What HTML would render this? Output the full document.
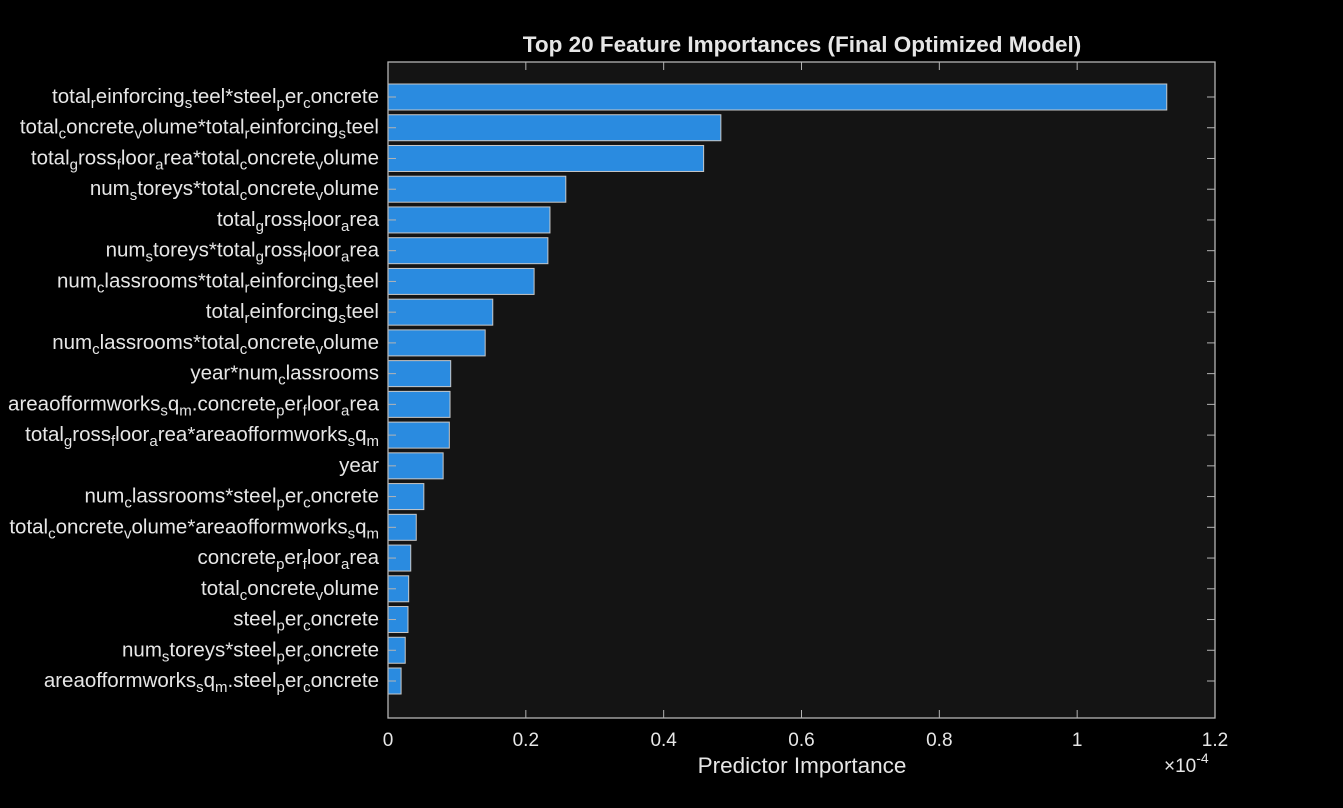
<!DOCTYPE html>
<html><head><meta charset="utf-8"><style>
html,body{margin:0;padding:0;background:#000;}
svg{display:block;font-family:"Liberation Sans",Arial,sans-serif;}
</style></head><body>
<svg id="chart" width="1343" height="808" viewBox="0 0 1343 808">
<rect x="0" y="0" width="1343" height="808" fill="#000"/>
<rect id="plotbg" x="388" y="62" width="827" height="656" fill="#141414"/>
<g id="bars"></g>
<g id="axes"></g>
<text x="802" y="52" text-anchor="middle" fill="#e6e6e6" font-size="22.5" font-weight="bold">Top 20 Feature Importances (Final Optimized Model)</text>
<text x="802" y="773" text-anchor="middle" fill="#e6e6e6" font-size="22.5">Predictor Importance</text>
<text x="1164" y="772" fill="#e6e6e6" font-size="19">×10<tspan dy="-9" font-size="14">-4</tspan></text>
</svg>
<script>
const features = [
"total_reinforcing_steel*steel_per_concrete",
"total_concrete_volume*total_reinforcing_steel",
"total_gross_floor_area*total_concrete_volume",
"num_storeys*total_concrete_volume",
"total_gross_floor_area",
"num_storeys*total_gross_floor_area",
"num_classrooms*total_reinforcing_steel",
"total_reinforcing_steel",
"num_classrooms*total_concrete_volume",
"year*num_classrooms",
"areaofformworks_sq_m.concrete_per_floor_area",
"total_gross_floor_area*areaofformworks_sq_m",
"year",
"num_classrooms*steel_per_concrete",
"total_concrete_volume*areaofformworks_sq_m",
"concrete_per_floor_area",
"total_concrete_volume",
"steel_per_concrete",
"num_storeys*steel_per_concrete",
"areaofformworks_sq_m.steel_per_concrete"
];
const importance = [1.130,0.483,0.458,0.258,0.235,0.232,0.212,0.152,0.141,0.091,0.090,0.089,0.080,0.052,0.041,0.033,0.030,0.029,0.025,0.019];
const xTicks = [0,0.2,0.4,0.6,0.8,1,1.2];
const xTickLabels = ["0","0.2","0.4","0.6","0.8","1","1.2"];

const NS="http://www.w3.org/2000/svg";
const L=388,R=1215,T=62,B=718;
const xMax=1.2;
const xs=v=>L+(v/xMax)*(R-L);
const rowTop=97, rowStep=(681-97)/19;
const ys=i=>rowTop+i*rowStep;
const barH=26;
const bars=document.getElementById('bars');
const axes=document.getElementById('axes');
function mk(tag,attrs,parent){const e=document.createElementNS(NS,tag);for(const k in attrs)e.setAttribute(k,attrs[k]);parent.appendChild(e);return e;}

importance.forEach((v,i)=>{
  const r=mk('rect',{x:xs(0),y:ys(i)-barH/2,width:xs(v)-xs(0),height:barH,fill:'#2a8be0',stroke:'#c8c8c8','stroke-width':1},bars);
  
  
  const t=mk('text',{x:379,y:ys(i)+6,'text-anchor':'end',fill:'#e6e6e6','font-size':20.5},axes);
  
  
  const s=features[i];
  let buf='';
  const flush=()=>{if(buf){const n=document.createElementNS(NS,'tspan');n.textContent=buf;t.appendChild(n);buf='';}};
  for(let k=0;k<s.length;k++){
    if(s[k]==='_'&&k+1<s.length){flush();const n=document.createElementNS(NS,'tspan');n.setAttribute('font-size','15');n.setAttribute('baseline-shift','-5');n.textContent=s[k+1];t.appendChild(n);k++;}
    else buf+=s[k];
  }
  flush();
  mk('line',{x1:L,x2:L+8,y1:ys(i),y2:ys(i),stroke:'#b4b4b4','stroke-width':1},axes);
  mk('line',{x1:R,x2:R-8,y1:ys(i),y2:ys(i),stroke:'#b4b4b4','stroke-width':1},axes);
});
const frame=mk('rect',{x:L,y:T,width:R-L,height:B-T,fill:'none',stroke:'#b4b4b4','stroke-width':1.3},axes);


xTicks.forEach((v,i)=>{
  mk('line',{x1:xs(v),x2:xs(v),y1:B,y2:B-8,stroke:'#b4b4b4','stroke-width':1},axes);
  mk('line',{x1:xs(v),x2:xs(v),y1:T,y2:T+8,stroke:'#b4b4b4','stroke-width':1},axes);
  const t=mk('text',{x:xs(v),y:746,'text-anchor':'middle',fill:'#e6e6e6','font-size':19},axes);
  
  
  t.textContent=xTickLabels[i];
});
</script>
</body></html>
